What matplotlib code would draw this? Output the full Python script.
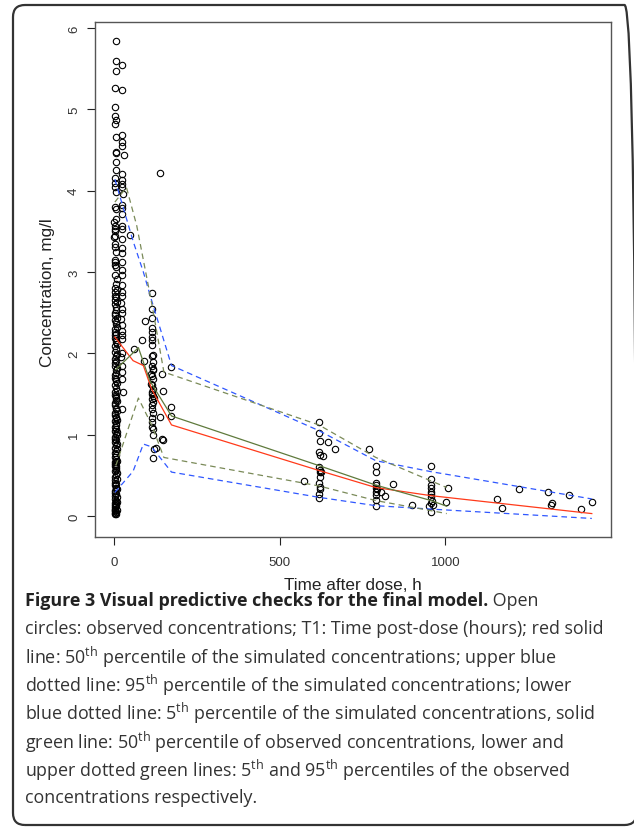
import matplotlib
matplotlib.use("Agg")
import matplotlib.pyplot as plt
from matplotlib.patches import FancyBboxPatch

plt.rcParams['mathtext.fontset'] = 'custom'
plt.rcParams['mathtext.rm'] = 'Open Sans'
plt.rcParams['mathtext.it'] = 'Open Sans:italic'
plt.rcParams['mathtext.bf'] = 'Open Sans:bold'

# ---------------- data ----------------
# early column (t ~ 0-8 h)
colA_conc = [5.84, 5.59, 5.47, 5.26, 5.03, 4.92, 4.87, 4.82, 4.66, 4.47,
             4.46, 4.35, 4.25, 4.16, 4.05, 3.98, 3.77, 3.65, 3.57, 3.53,
             3.44, 3.43, 3.34, 3.25, 3.12, 3.09, 3.06, 2.96, 2.80, 2.75,
             2.71, 2.66, 2.61, 2.57, 2.50, 2.47, 2.41, 2.36, 2.30, 2.26,
             2.23, 2.19, 2.14, 2.09, 2.02, 1.97, 1.93, 1.88, 1.84, 1.79,
             1.73, 1.70, 1.66, 1.61, 1.57, 1.52, 1.49, 1.43, 1.39, 1.36,
             1.31, 1.27, 1.24, 1.20, 1.17, 1.14, 1.10, 1.05, 1.01, 0.97,
             0.95, 0.91, 0.87, 0.84, 0.80, 0.77, 0.73, 0.70, 0.67, 0.64,
             0.61, 0.57, 0.55, 0.51, 0.48, 0.44, 0.41, 0.38, 0.35, 0.31,
             0.28, 0.25, 0.21, 0.19, 0.16, 0.13, 0.11, 0.08, 0.06, 0.04,
             0.03, 2.24, 1.76, 1.45, 1.12, 0.66, 0.59, 0.34, 0.15, 0.09]
colA_time = [4, 4, 4, 3, 2, 2, 4, 3, 4, 4,
             5, 4, 4, 1, 3, 4, 4, 4, 3, 3,
             2, 0, 3, 4, 1, 3, 5, 3, 1, 3,
             1, 3, 2, 4, 1, 3, 2, 4, 1, 2,
             3, 1, 5, 3, 2, 4, 1, 3, 2, 5,
             1, 3, 4, 2, 5, 3, 1, 4, 2, 3,
             4, 1, 3, 5, 2, 4, 1, 3, 6, 2,
             3, 1, 4, 2, 5, 3, 1, 4, 2, 3,
             1, 4, 2, 5, 3, 1, 3, 2, 5, 1,
             3, 1, 2, 4, 1, 3, 2, 1, 3, 2,
             2, 6, 6, 5, 6, 5, 6, 5, 4, 3]
colA2_conc = [2.92, 2.85, 2.78, 2.69, 2.63, 2.53, 2.44, 2.38, 2.33, 2.16,
              2.11, 2.05, 1.99, 1.90, 1.82, 1.68, 1.63, 1.54, 1.47, 1.41,
              1.33, 1.29, 1.22, 1.18, 1.07, 1.03, 0.99, 0.93, 0.89, 0.82,
              0.75, 0.68, 0.62, 0.53, 0.46, 0.39, 0.33, 0.27, 0.23, 0.17,
              0.12, 0.07, 0.05, 0.02, 3.15, 3.31, 3.50, 3.62, 3.80, 4.10]
colA2_time = [7, 6, 7, 6, 8, 6, 7, 5, 7, 6,
              7, 6, 8, 6, 7, 6, 7, 8, 6, 7,
              6, 8, 6, 7, 6, 8, 7, 6, 7, 8,
              6, 7, 6, 8, 7, 6, 7, 6, 7, 8,
              6, 7, 5, 6, 2, 1, 2, 0, 1, 2]
# second early column (t ~ 22-30 h)
colB_conc = [5.55, 5.24, 4.68, 4.60, 4.55, 4.44, 4.20, 4.13, 4.08, 4.04,
             3.96, 3.82, 3.79, 3.71, 3.56, 3.53, 3.40, 3.29, 3.23, 3.12,
             3.02, 2.96, 2.84, 2.76, 2.70, 2.62, 2.55, 2.50, 2.42, 2.35,
             2.28, 2.22, 2.18, 2.00, 1.95, 1.85, 1.77, 1.68, 1.53, 1.31]
colB_time = [24, 24, 24, 24, 24, 30, 24, 24, 24, 24,
             26, 24, 24, 24, 24, 24, 24, 24, 24, 24,
             24, 24, 24, 24, 24, 22, 24, 24, 22, 24,
             24, 24, 24, 24, 22, 24, 24, 24, 26, 24]
# scattered early points
early_time = [47, 59, 83, 93, 90, 138]
early_conc = [3.46, 2.05, 2.17, 2.40, 1.91, 4.22]
# column near 113 h
colC_conc = [2.74, 2.55, 2.43, 2.31, 2.26, 2.20, 2.16, 2.10, 1.98, 1.97,
             1.89, 1.85, 1.81, 1.79, 1.72, 1.68, 1.61, 1.56, 1.50, 1.47,
             1.44, 1.40, 1.36, 1.31, 1.27, 1.21, 1.15, 1.09, 1.07, 0.99,
             0.82, 0.71, 1.75, 1.62, 1.53, 1.45]
colC_time = [113, 115, 113, 113, 115, 113, 115, 113, 116, 113,
             116, 113, 116, 117, 113, 116, 113, 116, 113, 117,
             113, 116, 113, 115, 116, 113, 115, 113, 116, 117,
             119, 117, 110, 111, 114, 119]
# points 125-175 h
colD_time = [143, 170, 146, 170, 171, 138, 145, 147, 126]
colD_conc = [1.75, 1.83, 1.54, 1.34, 1.23, 1.22, 0.95, 0.93, 0.84]
# late sampling
late_time = [618, 618, 620, 618, 620, 631, 618, 622, 620, 624,
             620, 618, 620, 622, 618, 618, 645, 667, 573,
             790, 790, 790, 791, 790, 792, 790, 791, 790, 790,
             806, 818, 768, 843, 898,
             957, 957, 957, 957, 957, 958, 957, 959, 957, 949, 962, 957,
             1007, 1002, 1155, 1170, 1221, 1309, 1321, 1318, 1372, 1409, 1442]
late_conc = [1.16, 1.02, 0.92, 0.79, 0.75, 0.74, 0.60, 0.57, 0.54, 0.54,
             0.48, 0.41, 0.36, 0.33, 0.27, 0.22, 0.91, 0.82, 0.43,
             0.62, 0.54, 0.40, 0.38, 0.35, 0.33, 0.29, 0.26, 0.20, 0.12,
             0.29, 0.24, 0.82, 0.39, 0.13,
             0.61, 0.46, 0.38, 0.34, 0.30, 0.27, 0.23, 0.19, 0.16, 0.12, 0.14, 0.05,
             0.35, 0.17, 0.21, 0.10, 0.33, 0.29, 0.16, 0.13, 0.26, 0.09, 0.17]

# simulated percentiles
sim_time = [2, 57, 88, 113, 173, 618, 790, 957, 1442]
sim_p50 = [2.20, 1.91, 1.85, 1.56, 1.12, 0.56, 0.35, 0.25, 0.03]
sim_p95 = [4.14, 3.38, 3.00, 2.65, 1.85, 1.05, 0.68, 0.545, 0.21]
sim_p05 = [0.29, 0.55, 0.885, 0.85, 0.54, 0.23, 0.127, 0.085, -0.03]
# observed percentiles
obs50_time = [5, 73, 108, 173, 618, 790, 957, 1004]
obs50_conc = [1.80, 2.07, 1.66, 1.23, 0.62, 0.38, 0.19, 0.12]
obs95_time = [2, 37, 68, 113, 150, 618, 790, 1004]
obs95_conc = [3.86, 4.04, 3.57, 2.62, 1.77, 1.12, 0.72, 0.35]
obs05_time = [5, 73, 113, 150, 618, 790, 1004]
obs05_conc = [0.62, 1.45, 1.12, 0.72, 0.37, 0.19, 0.03]

x_ticks = [0, 500, 1000]
y_ticks = [0, 1, 2, 3, 4, 5, 6]
x_label = "Time after dose, h"
y_label = "Concentration, mg/l"

caption_bold = "Figure 3 Visual predictive checks for the final model."
caption_lines = [
    " Open",
    "circles: observed concentrations; T1: Time post-dose (hours); red solid",
    r"line: 50$^{\mathrm{th}}$ percentile of the simulated concentrations; upper blue",
    r"dotted line: 95$^{\mathrm{th}}$ percentile of the simulated concentrations; lower",
    r"blue dotted line: 5$^{\mathrm{th}}$ percentile of the simulated concentrations, solid",
    r"green line: 50$^{\mathrm{th}}$ percentile of observed concentrations, lower and",
    r"upper dotted green lines: 5$^{\mathrm{th}}$ and 95$^{\mathrm{th}}$ percentiles of the observed",
    "concentrations respectively.",
]

# ---------------- figure ----------------
W, H, DPI = 634, 829, 100
fig = plt.figure(figsize=(W / DPI, H / DPI), dpi=DPI)
fig.patch.set_facecolor("white")


def fx(px):
    return px / W


def fy(py):
    return 1 - py / H


ax = fig.add_axes([fx(95), fy(538), fx(611) - fx(95), fy(23) - fy(538)])

SANS = ["Liberation Sans", "DejaVu Sans"]
TICKFONT = dict(family=SANS, size=9.5)

# observations
all_time = colA_time + colA2_time + colB_time + early_time + colC_time + colD_time + late_time
all_conc = colA_conc + colA2_conc + colB_conc + early_conc + colC_conc + colD_conc + late_conc
ax.plot(all_time, all_conc, linestyle="none", marker="o", ms=4.6,
        mfc="none", mec="black", mew=0.8, zorder=3)

dash = (0, (4.5, 3.2))
ax.plot(sim_time, sim_p95, color="#2f57ff", lw=0.9, ls=dash, zorder=4)
ax.plot(sim_time, sim_p05, color="#2f57ff", lw=0.9, ls=dash, zorder=4)
ax.plot(sim_time, sim_p50, color="#ff3a1a", lw=0.9, zorder=4)
ax.plot(obs95_time, obs95_conc, color="#7a8a58", lw=0.9, ls=dash, zorder=4)
ax.plot(obs05_time, obs05_conc, color="#7a8a58", lw=0.9, ls=dash, zorder=4)
ax.plot(obs50_time, obs50_conc, color="#5f7a3c", lw=0.9, zorder=4)

ax.set_xlim(-58, 1500)
ax.set_ylim(-0.258, 6.074)
ax.set_xticks(x_ticks)
ax.set_yticks(y_ticks)
ax.set_xticklabels([str(v) for v in x_ticks], fontdict=TICKFONT, color="#333333")
ax.set_yticklabels([str(v) for v in y_ticks], fontdict=TICKFONT, color="#333333",
                   rotation=90, va="center")
ax.tick_params(axis="both", length=5.8, width=0.8, color="#222222")
ax.tick_params(axis="x", pad=8)
ax.tick_params(axis="y", pad=5)
for s in ax.spines.values():
    s.set_color("#555555")
    s.set_linewidth(1.0)

ax.set_xlabel(x_label, family=SANS, size=12.3, color="#222222", va="center")
ax.xaxis.set_label_coords((353 - 95) / 516, (538 - 586) / 515)
ax.set_ylabel(y_label, family=SANS, size=12.3, color="#222222", va="center")
ax.yaxis.set_label_coords((47 - 95) / 516, (538 - 293) / 515)

# rounded border (right edge falls just outside the image)
border = FancyBboxPatch((13, 3), 623.5, 820,
                        boxstyle="round,pad=0,rounding_size=12",
                        transform=None, fill=False, lw=1.6, ec="#333333")
fig.add_artist(border)

# caption
fig.canvas.draw()
r = fig.canvas.get_renderer()
probe = fig.text(0, 0, caption_lines[1], fontsize=12, family="Open Sans")
wprobe = probe.get_window_extent(r).width
probe.remove()
fs = 12 * 575 / wprobe

x0 = 25
line_y = [601, 629.2, 657.4, 685.6, 713.8, 742, 770.2, 798.4]
tb = fig.text(fx(x0), fy(line_y[0]), caption_bold, fontsize=fs, family="Open Sans",
              weight="bold", color="#222222", va="center", ha="left")
bb = tb.get_window_extent(r)
fig.text(bb.x1 / W, fy(line_y[0]), caption_lines[0], fontsize=fs, family="Open Sans",
         color="#333333", va="center", ha="left")
for yy, line in zip(line_y[1:], caption_lines[1:]):
    fig.text(fx(x0), fy(yy), line, fontsize=fs, family="Open Sans",
             color="#333333", va="center", ha="left")

fig.savefig("out.png", dpi=DPI)
